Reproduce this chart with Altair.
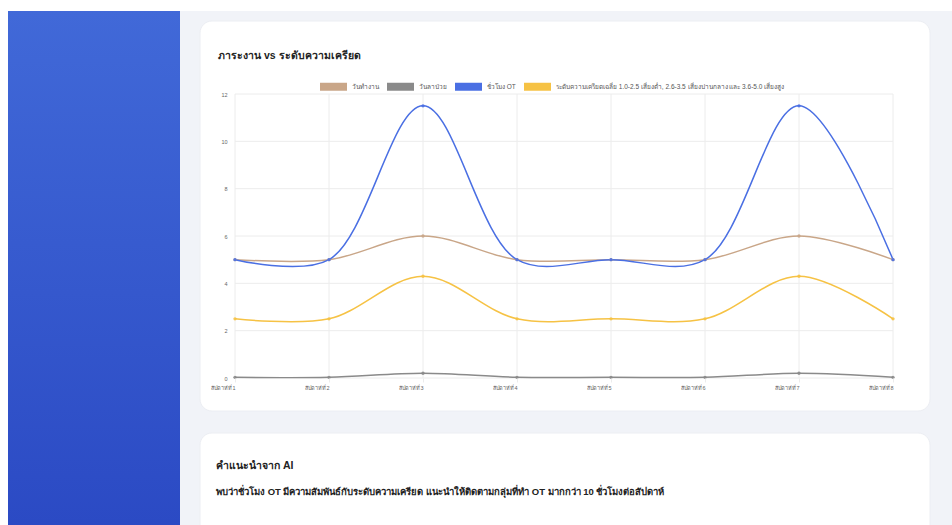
import altair as alt
import pandas as pd

# ---- data ----
weeks = ["สัปดาห์ที่1", "สัปดาห์ที่2", "สัปดาห์ที่3", "สัปดาห์ที่4",
         "สัปดาห์ที่5", "สัปดาห์ที่6", "สัปดาห์ที่7", "สัปดาห์ที่8"]
series_names = ["วันทำงาน", "วันลาป่วย", "ชั่วโมง OT",
                "ระดับความเครียดเฉลี่ย 1.0-2.5 เสี่ยงต่ำ, 2.6-3.5 เสี่ยงปานกลาง และ 3.6-5.0 เสี่ยงสูง"]
work_days = [5, 5, 6, 5, 5, 5, 6, 5]
sick_days = [0.03, 0.03, 0.2, 0.03, 0.03, 0.03, 0.2, 0.03]
ot_hours = [5, 5, 11.5, 5, 5, 5, 11.5, 5]
stress = [2.5, 2.5, 4.3, 2.5, 2.5, 2.5, 4.3, 2.5]
y_ticks = [0, 2, 4, 6, 8, 10, 12]
colors = ["#c9a688", "#8a8a8a", "#4a6fe3", "#f6c244"]

chart_title = "ภาระงาน vs ระดับความเครียด"
ai_title = "คำแนะนำจาก AI"
ai_text = "พบว่าชั่วโมง OT มีความสัมพันธ์กับระดับความเครียด แนะนำให้ติดตามกลุ่มที่ทำ OT มากกว่า 10 ชั่วโมงต่อสัปดาห์"

rows = []
for name, vals in zip(series_names, [work_days, sick_days, ot_hours, stress]):
    for w, v in zip(weeks, vals):
        rows.append({"week": w, "series": name, "value": v})
df = pd.DataFrame(rows)

FONT = "Liberation Sans"
W, H = 658, 284
one = pd.DataFrame({"a": [0]})

def box(x, x2, y, y2, fill, radius=0, stroke=None):
    kw = dict(cornerRadius=radius, fill=fill)
    if stroke:
        kw.update(stroke=stroke, strokeWidth=1)
    return alt.Chart(one).mark_rect(**kw).encode(
        x=alt.value(x), x2=alt.value(x2), y=alt.value(y), y2=alt.value(y2))

page = box(-227, 717, -83, 431, "#f1f3f8")
sidebar = box(-227, -55, -83, 431, alt.Gradient(
    gradient="linear", x1=0, y1=0, x2=0, y2=1,
    stops=[alt.GradientStop(offset=0, color="#4169d8"),
           alt.GradientStop(offset=1, color="#2b4ac4")]))
card1 = box(-35, 695, -73, 317, "#ffffff", radius=12, stroke="#eceef3")
card2 = box(-35, 695, 339, 460, "#ffffff", radius=12, stroke="#eceef3")

def label(text, x, y, size, weight="bold", color="#222222"):
    return alt.Chart(pd.DataFrame({"t": [text]})).mark_text(
        align="left", baseline="middle", font=FONT, fontSize=size,
        fontWeight=weight, color=color).encode(
        text="t:N", x=alt.value(x), y=alt.value(y))

t1 = label(chart_title, -17, -38, 10.5)
t2 = label(ai_title, -19, 372, 10.5)
t3 = label(ai_text, -19, 398, 9.5)

xscale = alt.Scale(type="point", padding=0, domain=weeks)
yscale = alt.Scale(domain=[0, 12], nice=False)

vgrid = alt.Chart(pd.DataFrame({"week": weeks})).mark_rule(
    color="#ececec", strokeWidth=1).encode(
    x=alt.X("week:N", scale=xscale, sort=weeks))
hgrid = alt.Chart(pd.DataFrame({"value": y_ticks})).mark_rule(
    color="#ececec", strokeWidth=1).encode(
    y=alt.Y("value:Q", scale=yscale))

color = alt.Color("series:N", scale=alt.Scale(domain=series_names, range=colors),
                  legend=alt.Legend(
                      orient="none", legendX=81, legendY=-25, direction="horizontal",
                      title=None, symbolType="M-1,0H1", symbolSize=729,
                      symbolStrokeWidth=8, labelFontSize=6.5, labelColor="#555555",
                      labelFont=FONT, columnPadding=-8, labelOffset=1, padding=0,
                      zindex=1, labelLimit=400, symbolOpacity=1))

base = alt.Chart(df).encode(
    x=alt.X("week:N", scale=xscale, sort=weeks,
            axis=alt.Axis(title=None, labelAngle=0, labelFontSize=5.5, labelFont=FONT,
                          labelColor="#666666", domain=False, ticks=True,
                          tickColor="#ececec", tickSize=4, labelPadding=5,
                          grid=False, zindex=1)),
    y=alt.Y("value:Q", scale=yscale,
            axis=alt.Axis(title=None, values=y_ticks, labelFontSize=5.5, labelFont=FONT,
                          labelColor="#666666", domain=False, ticks=False,
                          labelPadding=8, grid=False, zindex=1)),
    color=color,
)
lines = base.mark_line(interpolate="catmull-rom", strokeWidth=1.5)
points = base.mark_point(filled=True, size=11, opacity=0.9).encode(
    color=alt.Color("series:N", scale=alt.Scale(domain=series_names, range=colors),
                    legend=None))

chart = alt.layer(page, sidebar, card1, card2, t1, t2, t3,
                  vgrid, hgrid, lines, points).properties(
    width=W, height=H,
    autosize=alt.AutoSizeParams(type="none"),
    padding={"left": 235, "top": 94, "right": 59, "bottom": 147},
    background="#ffffff",
).configure_view(stroke=None).resolve_scale(color="shared")

chart.save("out.html", embed_options={"renderer": "svg", "actions": False})
